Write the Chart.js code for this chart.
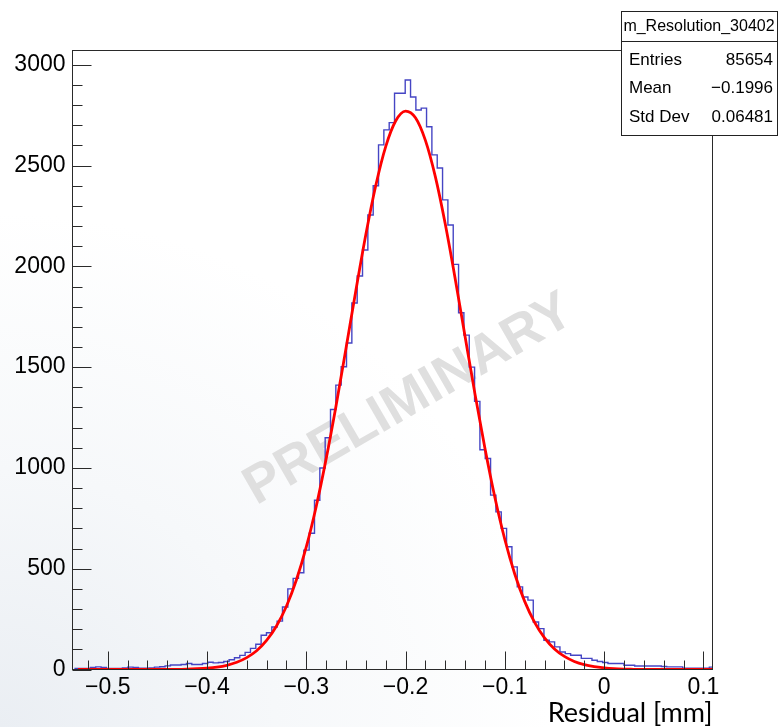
<!DOCTYPE html>
<html>
<head>
<meta charset="utf-8">
<script src="https://cdn.jsdelivr.net/npm/chart.js@4.4.1/dist/chart.umd.min.js"></script>
<style>
  html, body { margin: 0; padding: 0; }
  body {
    width: 778px; height: 727px; overflow: hidden;
    background: radial-gradient(ellipse at 0% 100%, #eaeef3 0%, #f6f8fa 25%, #ffffff 50%);
  }
  #chart { position: absolute; left: 0; top: 0; }
</style>
</head>
<body>
<canvas id="chart" width="778" height="727"></canvas>
<script>
// axis range of the frame
const xMin = -0.5355;
const xMax = 0.1092;
const yMax = 3071;

// histogram: first bin edge, bin width and bin contents
const histStart = -0.5336;
const histBinWidth = 0.005375;
const counts = [
  5, 5, 5, 10, 13, 10, 5, 5, 5, 8,
  12, 10, 6, 6, 8, 12, 14, 18, 22, 22,
  25, 30, 25, 25, 30, 36, 33, 35, 40, 48,
  58, 70, 85, 105, 125, 170, 182, 211, 240, 310,
  400, 452, 480, 592, 676, 840, 1000, 1150, 1290, 1411,
  1502, 1620, 1818, 1952, 2081, 2255, 2400, 2603, 2677, 2713,
  2859, 2859, 2925, 2840, 2776, 2785, 2693, 2553, 2488, 2330,
  2205, 2010, 1770, 1659, 1500, 1330, 1090, 1047, 865, 782,
  700, 609, 509, 410, 360, 344, 236, 203, 145, 137,
  112, 87, 79, 71, 71, 55, 55, 46, 40, 35,
  30, 30, 30, 21, 21, 17, 17, 17, 17, 17,
  15, 13, 13, 13, 7, 7, 7, 7, 7, 12
];

// gaussian fit curve, sampled
const fitX = [
  -0.53, -0.52, -0.51, -0.50, -0.49, -0.48, -0.47, -0.46, -0.45, -0.44,
  -0.43, -0.42, -0.41, -0.40, -0.39, -0.38, -0.37, -0.36, -0.35, -0.34,
  -0.33, -0.32, -0.31, -0.30, -0.29, -0.28, -0.27, -0.26, -0.25, -0.24,
  -0.23, -0.22, -0.21, -0.20, -0.19, -0.18, -0.17, -0.16, -0.15, -0.14,
  -0.13, -0.12, -0.11, -0.10, -0.09, -0.08, -0.07, -0.06, -0.05, -0.04,
  -0.03, -0.02, -0.01, 0.00, 0.01, 0.02, 0.03, 0.04, 0.05, 0.06,
  0.07, 0.08, 0.09, 0.10, 0.11
];
const fitY = [
  0, 0, 0, 0, 0, 0, 0, 0, 0, 1,
  1, 2, 4, 7, 12, 21, 36, 59, 93, 144,
  216, 314, 444, 608, 809, 1045, 1309, 1593, 1882, 2158,
  2401, 2594, 2721, 2770, 2737, 2625, 2445, 2210, 1939, 1651,
  1365, 1096, 853, 645, 474, 338, 234, 157, 102, 65,
  40, 24, 14, 8, 4, 2, 1, 0, 0, 0,
  0, 0, 0, 0, 0
];

const xTickValues = [-0.5, -0.4, -0.3, -0.2, -0.1, 0, 0.1];
const yTickValues = [0, 500, 1000, 1500, 2000, 2500, 3000];

const statsTitle = "m_Resolution_30402";
const statsLabels = ["Entries", "Mean", "Std Dev"];
const statsValues = ["85654", "\u22120.1996", "0.06481"];

// one point per bin low edge; 'before' stepping draws each value across its own bin
const histPoints = counts.map((c, i) => ({ x: histStart + i * histBinWidth, y: c }));
histPoints.push({ x: histStart + counts.length * histBinWidth, y: counts[counts.length - 1] });

const fitPoints = fitX.map((x, i) => ({ x: x, y: fitY[i] }));

function fmtX(v) {
  if (Math.abs(v) < 1e-9) return "0";
  return (v < 0 ? "\u2212" : "") + Math.abs(v).toFixed(1);
}

// minor tick positions (axis decoration only)
const xMinor = [];
for (let v = -0.52; v < 0.101; v += 0.02) xMinor.push(+v.toFixed(3));
const yMinor = [];
for (let v = 100; v <= 3000; v += 100) yMinor.push(v);

const ROOT_FONT = "'Liberation Sans', Arial, sans-serif";

const watermark = {
  id: "watermark",
  beforeDatasetsDraw(chart) {
    const ctx = chart.ctx;
    ctx.save();
    ctx.translate(409, 400);
    ctx.rotate(-30 * Math.PI / 180);
    ctx.font = "bold 54px " + ROOT_FONT;
    ctx.fillStyle = "#dfdfdf";
    ctx.textAlign = "center";
    ctx.textBaseline = "middle";
    ctx.fillText("PRELIMINARY", 0, 0);
    ctx.restore();
  }
};

const rootFrame = {
  id: "rootFrame",
  afterDatasetsDraw(chart) {
    const { ctx, chartArea: a, scales: { x, y } } = chart;
    ctx.save();
    ctx.strokeStyle = "#2a2a2a";
    ctx.lineWidth = 1;
    ctx.beginPath();
    xMinor.forEach(v => {
      const px = Math.round(x.getPixelForValue(v)) + 0.5;
      ctx.moveTo(px, a.bottom); ctx.lineTo(px, a.bottom - 9);
    });
    xTickValues.forEach(v => {
      const px = Math.round(x.getPixelForValue(v)) + 0.5;
      ctx.moveTo(px, a.bottom); ctx.lineTo(px, a.bottom - 18);
    });
    yMinor.forEach(v => {
      const py = Math.round(y.getPixelForValue(v)) + 0.5;
      ctx.moveTo(a.left, py); ctx.lineTo(a.left + 10, py);
    });
    yTickValues.forEach(v => {
      const py = Math.round(y.getPixelForValue(v)) + 0.5;
      ctx.moveTo(a.left, py); ctx.lineTo(a.left + 19, py);
    });
    ctx.stroke();
    ctx.strokeRect(a.left, a.top, a.right - a.left, a.bottom - a.top);
    ctx.restore();
  },
  afterDraw(chart) {
    // stats box
    const ctx = chart.ctx;
    const bx = 621.5, by = 11.5, bw = 156, bh = 124;
    ctx.save();
    ctx.fillStyle = "#ffffff";
    ctx.fillRect(bx, by, bw, bh);
    ctx.strokeStyle = "#222";
    ctx.lineWidth = 1;
    ctx.strokeRect(bx, by, bw, bh);
    ctx.beginPath();
    ctx.moveTo(bx, 41.5); ctx.lineTo(bx + bw, 41.5);
    ctx.stroke();
    ctx.fillStyle = "#000";
    ctx.textBaseline = "middle";
    ctx.font = "16px " + ROOT_FONT;
    ctx.textAlign = "center";
    ctx.fillText(statsTitle, 699, 27);
    ctx.font = "17px " + ROOT_FONT;
    const rows = [60, 88, 117];
    statsLabels.forEach((lab, i) => {
      ctx.textAlign = "left";
      ctx.fillText(lab, 629, rows[i]);
      ctx.textAlign = "right";
      ctx.fillText(statsValues[i], 773, rows[i]);
    });
    ctx.restore();
  }
};

new Chart(document.getElementById("chart"), {
  type: "line",
  data: {
    datasets: [
      {
        label: "fit",
        data: fitPoints,
        borderColor: "#ff0000",
        borderWidth: 2.8,
        pointRadius: 0,
        cubicInterpolationMode: "monotone",
        fill: false
      },
      {
        label: "hist",
        data: histPoints,
        borderColor: "#4545c4",
        borderWidth: 1.4,
        pointRadius: 0,
        stepped: "before",
        fill: false
      }
    ]
  },
  options: {
    responsive: false,
    animation: false,
    devicePixelRatio: 1,
    layout: { padding: { left: 0, right: 65.5, top: 50.5, bottom: 0 } },
    plugins: { legend: { display: false }, tooltip: { enabled: false } },
    scales: {
      x: {
        type: "linear",
        min: xMin,
        max: xMax,
        grid: { display: false, drawTicks: false },
        border: { display: false },
        afterBuildTicks: s => { s.ticks = xTickValues.map(v => ({ value: v })); },
        afterFit: s => { s.height = 57.5; },
        ticks: {
          autoSkip: false,
          maxRotation: 0,
          padding: 4,
          color: "#000",
          font: { family: ROOT_FONT, size: 23 },
          callback: v => fmtX(v)
        },
        title: {
          display: true,
          text: "Residual [mm]",
          align: "end",
          color: "#000",
          padding: 0,
          font: { family: "Lato, 'Open Sans', sans-serif", size: 27, lineHeight: 1 }
        }
      },
      y: {
        min: 0,
        max: yMax,
        grid: { display: false, drawTicks: false },
        border: { display: false },
        afterBuildTicks: s => { s.ticks = yTickValues.map(v => ({ value: v })); },
        afterFit: s => { s.width = 72.5; },
        ticks: {
          autoSkip: false,
          padding: 7,
          color: "#000",
          font: { family: ROOT_FONT, size: 23 },
          callback: v => String(v)
        }
      }
    }
  },
  plugins: [watermark, rootFrame]
});
</script>
</body>
</html>
